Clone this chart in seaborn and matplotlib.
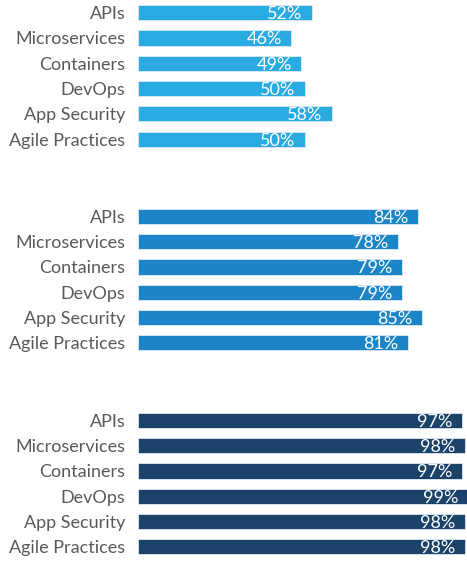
import seaborn as sns
import matplotlib.pyplot as plt
import pandas as pd

categories = ['APIs', 'Microservices', 'Containers', 'DevOps', 'App Security', 'Agile Practices']
group1 = [52, 46, 49, 50, 58, 50]
group2 = [84, 78, 79, 79, 85, 81]
group3 = [97, 98, 97, 99, 98, 98]

colors = ['#29ABE2', '#1B85C7', '#1B4369']

sns.set_style('white')
plt.rcParams['font.family'] = ['Lato', 'DejaVu Sans']

fig = plt.figure(figsize=(4.67, 5.61), dpi=100)

# axes positions in figure fraction (left, bottom, width, height)
left = 138 / 467
positions = [
    (left, 1 - 151.8 / 561, 1 - left, 151.8 / 561),
    (left, 1 - 355.5 / 561, 1 - left, 151.8 / 561),
    (left, 1 - 559.5 / 561, 1 - left, 151.8 / 561),
]

for vals, color, pos in zip([group1, group2, group3], colors, positions):
    ax = fig.add_axes(pos)
    df = pd.DataFrame({'cat': categories, 'val': vals})
    sns.barplot(data=df, y='cat', x='val', orient='h', color=color,
                width=0.6, edgecolor='#dfeaf3', linewidth=0.6, saturation=1, ax=ax)
    ax.set_xlim(0, 98.6)
    ax.set_ylim(5.5, -0.5)
    ax.set_xlabel('')
    ax.set_ylabel('')
    ax.set_xticks([])
    ax.tick_params(axis='y', length=0, pad=9, labelsize=13, labelcolor='#595959')
    sns.despine(ax=ax, left=True, bottom=True)
    for i, v in enumerate(vals):
        ax.text(v - 2.9, i, f'{v}%', ha='right', va='center_baseline',
                color='white', fontsize=13)

fig.savefig('out.png', dpi=100)
